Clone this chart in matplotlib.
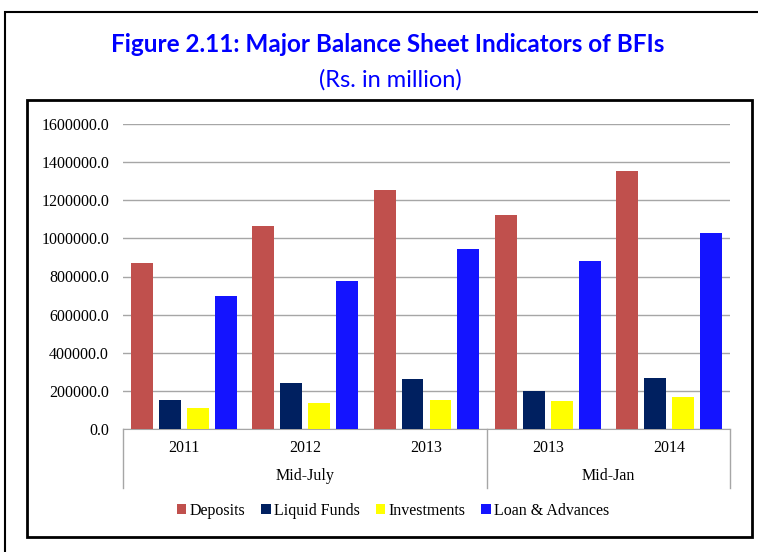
import matplotlib.pyplot as plt
import matplotlib.transforms as mtransforms
from matplotlib.patches import Rectangle
from matplotlib import font_manager
import numpy as np

print([f.name for f in font_manager.fontManager.ttflist if "Liberation" in f.name][:10])
plt.rcParams["font.family"] = ["Liberation Serif", "DejaVu Serif"]

# data
years = ["2011", "2012", "2013", "2013", "2014"]
groups = ["Mid-July", "Mid-Jan"]
group_sizes = [3, 2]
deposits = [870000, 1066000, 1254000, 1122000, 1353000]
liquid_funds = [152000, 240000, 262000, 199000, 268000]
investments = [110000, 136000, 152000, 147000, 168000]
loans = [698000, 776000, 944000, 881000, 1028000]
series_names = ["Deposits", "Liquid Funds", "Investments", "Loan & Advances"]
colors = ["#C0504D", "#002060", "#FFFF00", "#1414FF"]

W, H = 758, 552
fig = plt.figure(figsize=(W / 100, H / 100), dpi=100)

# outer frame and inner chart frame
fig.patches.append(Rectangle((5 / W, -0.1), 1.0, 1 - 12 / H + 0.1, transform=fig.transFigure,
                             fill=False, edgecolor="black", linewidth=1.5))
fig.patches.append(Rectangle((27 / W, 1 - 537 / H), (752 - 27) / W, (537 - 100) / H,
                             transform=fig.transFigure, fill=False, edgecolor="black", linewidth=2))

fig.text(388 / W, 1 - 45 / H, "Figure 2.11: Major Balance Sheet Indicators of BFIs",
         ha="center", va="center", color="#0000FF", fontsize=17.5, fontweight="bold", family="Lato")
fig.text(390 / W, 1 - 80 / H, "(Rs. in million)", ha="center", va="center",
         color="#0000FF", fontsize=17, family="Lato")

ax = fig.add_axes([123 / W, 1 - 429 / H, (730 - 123) / W, (429 - 124) / H])

x = np.arange(len(years))
width = 0.18
pitch = 0.23
all_series = [deposits, liquid_funds, investments, loans]
bars = []
for i, (vals, c) in enumerate(zip(all_series, colors)):
    b = ax.bar(x + (i - 1.5) * pitch, vals, width, color=c, zorder=3, label=series_names[i])
    bars.append(b)

ax.set_xlim(-0.5, len(years) - 0.5)
ax.set_ylim(0, 1600000)
ax.set_yticks(np.arange(0, 1600001, 200000))
ax.set_yticklabels([f"{v:.1f}" for v in np.arange(0, 1600001, 200000)], fontsize=11.5)
ax.tick_params(axis="y", length=0, pad=10)
ax.yaxis.grid(True, color="#A6A6A6", linewidth=1, zorder=0)
for s in ["top", "right", "left"]:
    ax.spines[s].set_visible(False)
ax.spines["bottom"].set_color("#A6A6A6")
ax.set_xticks(x)
ax.set_xticklabels(years, fontsize=11.5)
ax.tick_params(axis="x", length=0, pad=8)

# category grouping lines and labels
trans = mtransforms.blended_transform_factory(ax.transData, ax.transAxes)
depth = -(488 - 429) / (429 - 124)
seps = [-0.5]
start = -0.5
for name, n in zip(groups, group_sizes):
    end = start + n
    seps.append(end)
    ax.text((start + end) / 2, -(476 - 429) / (429 - 124), name, transform=trans,
            ha="center", va="center", fontsize=11.5)
    start = end
for s in seps:
    ax.plot([s, s], [0, depth], transform=trans, color="#A6A6A6", linewidth=1, clip_on=False)

fig.legend(handles=bars, labels=series_names, loc="center", bbox_to_anchor=(393 / W, 1 - 511 / H),
           ncol=4, frameon=False, prop={"size": 11.5},
           handlelength=0.6, handleheight=0.6, handletextpad=0.2, columnspacing=1.0)

fig.savefig("out.png", dpi=100)
